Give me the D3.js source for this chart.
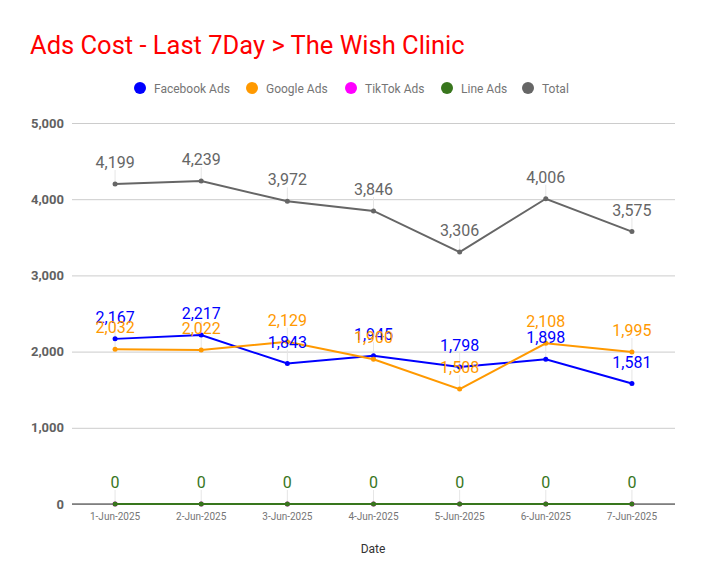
<!DOCTYPE html>
<html><head><meta charset="utf-8">
<script src="https://cdn.jsdelivr.net/npm/d3@7"></script>
<style>body{margin:0;background:#fff}svg{display:block;font-family:Roboto,sans-serif}</style>
</head><body><svg id="c" width="704" height="585"></svg>
<script>
const dates = ["1-Jun-2025","2-Jun-2025","3-Jun-2025","4-Jun-2025","5-Jun-2025","6-Jun-2025","7-Jun-2025"];
const facebookAds = [2167,2217,1843,1945,1798,1898,1581];
const googleAds = [2032,2022,2129,1900,1508,2108,1995];
const tiktokAds = [0,0,0,0,0,0,0];
const lineAds = [0,0,0,0,0,0,0];
const total = [4199,4239,3972,3846,3306,4006,3575];
const yTicks = [0,1000,2000,3000,4000,5000];
const seriesNames = ["Facebook Ads","Google Ads","TikTok Ads","Line Ads","Total"];
const seriesColors = ["#0000ff","#ff9900","#ff00ff","#38761d","#666666"];
const seriesValues = [facebookAds,googleAds,tiktokAds,lineAds,total];
const showLabels = [true,true,false,true,true];

const svg = d3.select("#c");
const x = d3.scaleBand().domain(dates).range([72,675]);
const y = d3.scaleLinear().domain([0,5000]).range([504,123]);
const cx = d => x(d) + x.bandwidth()/2;
const fmt = d3.format(",");

svg.append("text").attr("x",30).attr("y",54).attr("fill","#ff0000")
  .style("font-size","25.5px").text("Ads Cost - Last 7Day > The Wish Clinic");

// legend
const legX = [140,252,351,447,528];
seriesNames.forEach((n,i)=>{
  const g = svg.append("g").attr("transform",`translate(${legX[i]},88)`);
  g.append("circle").attr("r",6).attr("fill",seriesColors[i]);
  g.append("text").attr("x",14).attr("y",4.5).attr("fill","#757575").style("font-size","12px").text(n);
});

// gridlines
const yAxis = d3.axisLeft(y).tickValues(yTicks).tickSize(-(675-72)).tickFormat(fmt).tickPadding(8);
const ga = svg.append("g").attr("transform","translate(72,0)").call(yAxis);
ga.select(".domain").remove();
ga.selectAll(".tick line").attr("stroke","#cccccc");
ga.selectAll(".tick text").attr("fill","#616161").style("font-size","13px").style("font-weight","bold").style("font-family","Roboto");

// x axis
const xAxis = d3.axisBottom(x).tickSize(0).tickPadding(9);
const gx = svg.append("g").attr("transform","translate(0,504)").call(xAxis);
gx.select(".domain").remove();
gx.selectAll(".tick text").attr("fill","#757575").style("font-size","10px").style("font-family","Roboto");
svg.append("line").attr("x1",72).attr("x2",675).attr("y1",y(0)).attr("y2",y(0)).attr("stroke","#333").attr("stroke-width",1);

svg.append("text").attr("x",373).attr("y",553).attr("text-anchor","middle").attr("fill","#333")
  .style("font-size","12px").text("Date");

// leader lines
seriesValues.forEach((vals,i)=>{
  if(!showLabels[i]) return;
  svg.append("g").selectAll("line").data(vals).join("line")
    .attr("x1",(d,j)=>cx(dates[j])).attr("x2",(d,j)=>cx(dates[j]))
    .attr("y1",d=>y(d)).attr("y2",d=>y(d)-14)
    .attr("stroke","#e6e6e6").attr("stroke-width",1);
});

const line = d3.line().x((d,j)=>cx(dates[j])).y(d=>y(d));
seriesValues.forEach((vals,i)=>{
  svg.append("path").datum(vals).attr("d",line).attr("fill","none")
    .attr("stroke",seriesColors[i]).attr("stroke-width",2);
  svg.append("g").selectAll("circle").data(vals).join("circle")
    .attr("cx",(d,j)=>cx(dates[j])).attr("cy",d=>y(d)).attr("r",2.5).attr("fill",seriesColors[i]);
});
seriesValues.forEach((vals,i)=>{
  if(!showLabels[i]) return;
  svg.append("g").selectAll("text").data(vals).join("text")
    .attr("x",(d,j)=>cx(dates[j])).attr("y",d=>y(d)-16).attr("text-anchor","middle")
    .attr("fill",seriesColors[i]).style("font-size","16px").text(d=>fmt(d));
});
</script></body></html>
